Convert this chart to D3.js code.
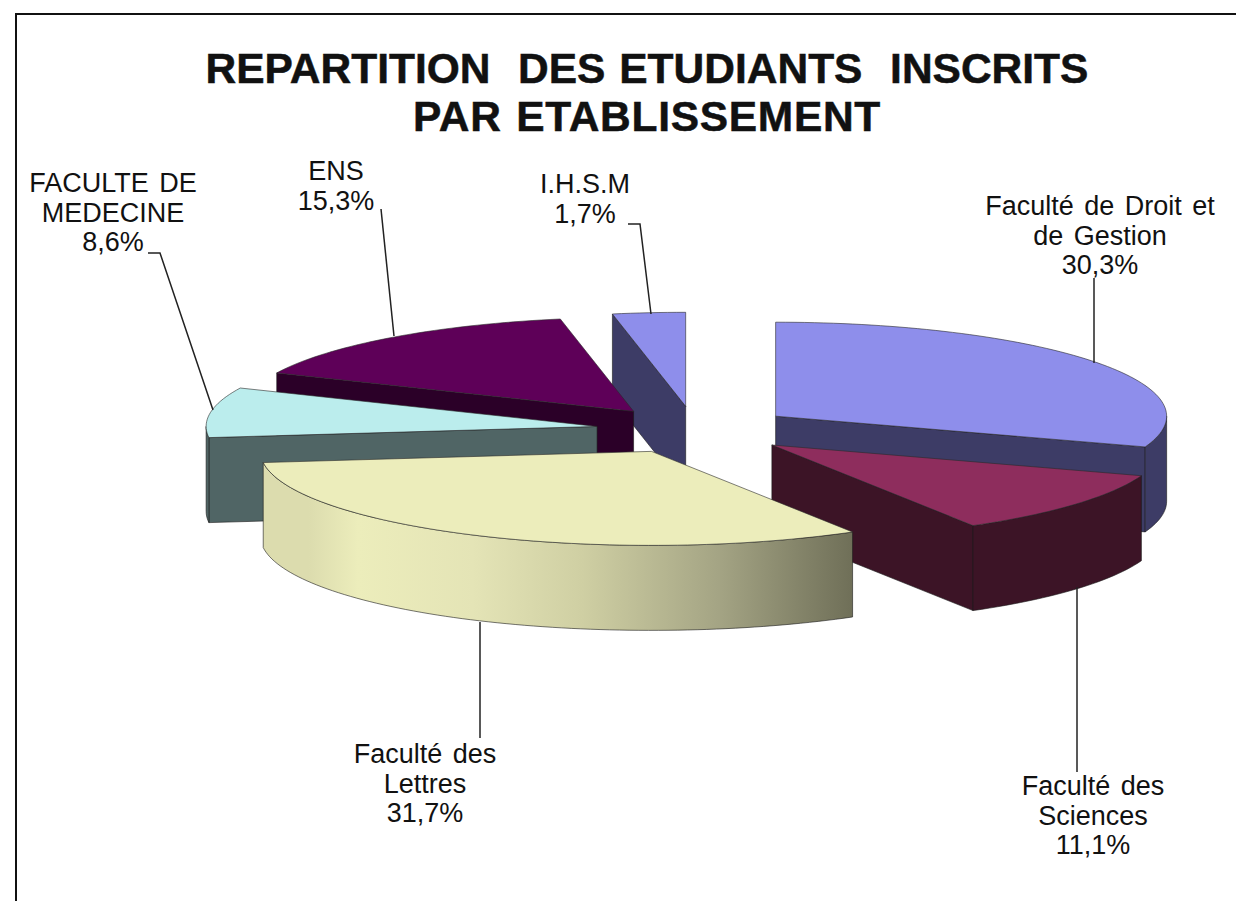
<!DOCTYPE html>
<html>
<head>
<meta charset="utf-8">
<script src="https://d3js.org/d3.v7.min.js"></script>
<style>
  html, body { margin: 0; background: #fff; overflow: hidden; }
  svg { display: block; }
  text { font-family: "Liberation Sans", Arial, sans-serif; fill: #111; text-anchor: middle; }
  .title { font-size: 42.5px; font-weight: bold; word-spacing: 2px; stroke: #111; stroke-width: 0.5; }
  .label { font-size: 27px; word-spacing: 3px; }
  .leader { fill: none; stroke: #222; stroke-width: 1.5; }
</style>
</head>
<body>
<svg id="chart" width="1236" height="901"></svg>
<script>
const titleLines = ["REPARTITION  DES ETUDIANTS  INSCRITS", "PAR ETABLISSEMENT"];
const categories = ["Faculté de Droit et de Gestion", "Faculté des Sciences", "Faculté des Lettres",
                    "FACULTE DE MEDECINE", "ENS", "I.H.S.M"];
const percentLabels = ["30,3%", "11,1%", "31,7%", "8,6%", "15,3%", "1,7%"];
// wedge sizes as drawn, the I.H.S.M one is wider than its printed 1,7%
const shares = [30.3, 11.1, 31.7, 8.6, 15.3, 3.0];
const topColours = ["#8e8eeb", "#8e2d5d", "#ecedbb", "#bbeded", "#5e0058", "#8e8eeb"];
const wallColours = ["#3d3c66", "#3c1426", "#ecedbb", "#506565", "#2b0028", "#3d3c66"];

const width = 1236, height = 901;
const cx = 695, cy = 430, rx = 391, ry = 94, depth = 85, explode = 99;
const drawOrder = [5, 0, 4, 3, 1, 2];

const svg = d3.select("#chart");
const x = d3.scaleLinear().domain([-1, 1]).range([cx - rx, cx + rx]);
const y = d3.scaleLinear().domain([-1, 1]).range([cy - ry, cy + ry]);

// lettres wall shading, light at the left and dark at the right
const grad = svg.append("defs").append("linearGradient")
    .attr("id", "lettresWall")
    .attr("gradientUnits", "userSpaceOnUse")
    .attr("x1", x(-1) + 5).attr("x2", x(0.41)).attr("y1", 0).attr("y2", 0);
[[0, "#dcdcae"], [0.09, "#ecedbb"], [0.3, "#e4e4b6"], [0.5, "#cfcfa3"], [0.75, "#a4a484"], [1, "#6e6e57"]]
  .forEach(s => grad.append("stop").attr("offset", s[0]).attr("stop-color", s[1]));

// page frame, only left and top show in the crop
svg.append("path")
    .attr("d", d3.line()([[16, height], [16, 14], [width, 14]]))
    .attr("fill", "none").attr("stroke", "#111").attr("stroke-width", 2);

svg.selectAll("text.title")
  .data(titleLines)
  .enter()
  .append("text")
    .attr("class", "title")
    .attr("x", 647)
    .attr("y", (d, i) => 83 + i * 48)
    .attr("xml:space", "preserve")
    .style("white-space", "pre")
    .style("letter-spacing", (d, i) => i == 1 ? "0.7px" : null)
    .text(d => d);

const slices = d3.pie().sort(null).value(d => d)(shares);
const line = d3.line();

// angle is clockwise from 12 o'clock, same as d3.pie
function rim(a, o, drop) {
  return [x(o.dx + Math.sin(a)), y(o.dy - Math.cos(a)) + drop];
}

function arcPoints(a0, a1, o, drop) {
  const n = Math.max(2, Math.ceil(Math.abs(a1 - a0) * 40));
  return d3.range(n + 1).map(i => rim(a0 + (a1 - a0) * i / n, o, drop));
}

function faces(i) {
  const s = slices[i];
  const mid = (s.startAngle + s.endAngle) / 2;
  const o = { dx: explode / rx * Math.sin(mid), dy: -explode / rx * Math.cos(mid) };
  const apex = [x(o.dx), y(o.dy)];
  const wall = {fill: i == 2 ? "url(#lettresWall)" : wallColours[i]};

  const g = svg.append("g").attr("class", "slice").attr("data-name", categories[i]);

  function addWall(pts) {
    const bottom = pts.map(p => [p[0], p[1] + depth]).reverse();
    g.append("path")
      .attr("d", line(pts.concat(bottom)) + "Z")
      .attr("fill", wall.fill)
      .attr("stroke", "#1a1a1a")
      .attr("stroke-width", 0.6);
  }

  // flat cut walls, only those turned towards the viewer
  if (Math.cos(s.startAngle - Math.PI / 2) < -0.01) addWall([apex, rim(s.startAngle, o, 0)]);
  if (Math.cos(s.endAngle + Math.PI / 2) < -0.01) addWall([apex, rim(s.endAngle, o, 0)]);

  // curved wall, front half of the rim only
  const a0 = Math.max(s.startAngle, Math.PI / 2), a1 = Math.min(s.endAngle, 3 * Math.PI / 2);
  if (a1 > a0) addWall(arcPoints(a0, a1, o, 0));

  g.append("path")
    .attr("d", line([apex].concat(arcPoints(s.startAngle, s.endAngle, o, 0))) + "Z")
    .attr("fill", topColours[i])
    .attr("stroke", "#2a2a2a")
    .attr("stroke-width", 0.6);
}

drawOrder.forEach(faces);

// label layout: centre x, first baseline, wrapped lines, leader
const labelLayout = [
  { x: 1100, y: 215, lines: ["Faculté de Droit et", "de Gestion"], leader: [[1094, 278], [1094, 363]] },
  { x: 1093, y: 795, lines: ["Faculté des", "Sciences"], leader: [[1077, 587], [1077, 772]] },
  { x: 425, y: 763, lines: ["Faculté des", "Lettres"], leader: [[480, 622], [480, 738]] },
  { x: 113, y: 192, lines: ["FACULTE DE", "MEDECINE"], leader: [[148, 253], [160, 253], [213, 410]] },
  { x: 336, y: 180, lines: ["ENS"], leader: [[381, 209], [394, 336]] },
  { x: 585, y: 193, lines: ["I.H.S.M"], leader: [[628, 224], [640, 224], [651, 314]] }
];

labelLayout.forEach((d, i) => {
  svg.append("path").attr("class", "leader").attr("d", line(d.leader));
  d.lines.concat(percentLabels[i]).forEach((t, j) => {
    svg.append("text")
      .attr("class", "label")
      .attr("x", d.x)
      .attr("y", d.y + j * 29.5)
      .text(t);
  });
});
</script>
</body>
</html>
